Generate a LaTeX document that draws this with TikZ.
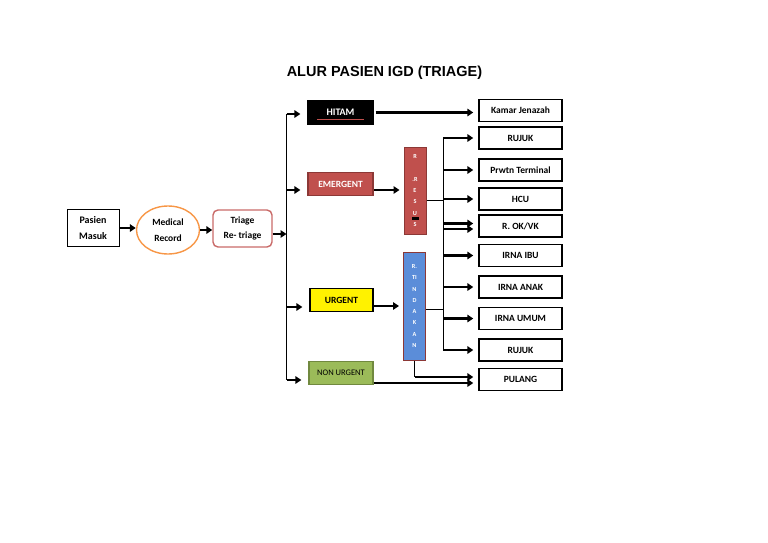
\documentclass[tikz,border=0pt]{standalone}
\usepackage{fontspec}
\setmainfont{Carlito}
\newfontfamily\titlefont{Liberation Sans}
\usetikzlibrary{arrows.meta,positioning,shapes.geometric}

\definecolor{emred}{HTML}{C0504D}
\definecolor{emborder}{HTML}{8C3836}
\definecolor{tinblue}{HTML}{5B8DD9}
\definecolor{nugreen}{HTML}{9BBB59}
\definecolor{nuborder}{HTML}{71893F}
\definecolor{mrorange}{HTML}{F79646}

\begin{document}
\begin{tikzpicture}[
  x=1pt, y=-1pt,
  font=\bfseries\fontsize{9.5}{10}\selectfont,
  start/.style={
    draw=black,
    line width=1pt,
    minimum width=52pt,
    minimum height=37pt,
    align=center,
    inner sep=1pt,
    font=\bfseries\fontsize{9.5}{15.5}\selectfont
  },
  level/.style={
    draw=black,
    line width=1.2pt,
    minimum width=65pt,
    minimum height=23pt,
    inner sep=1pt
  },
  room/.style={
    draw=emborder,
    line width=1pt,
    minimum width=22pt,
    text=white,
    align=center,
    inner sep=0pt,
    font=\bfseries\fontsize{6.2}{11.3}\selectfont
  },
  box/.style={
    draw=black,
    line width=1.4pt,
    minimum width=83pt,
    minimum height=22pt,
    inner sep=1pt
  },
  arrow/.style={-{Triangle[length=6pt,width=7.5pt]}, line width=2.4pt},
  trunk/.style={line width=0.9pt}
]
\useasboundingbox (0,0) rectangle (768,543);

\node[font=\titlefont\bfseries\fontsize{14.5}{16}\selectfont] (title) at (384.5,73) {ALUR PASIEN IGD (TRIAGE)};

% start of flow
\node[start, font=\bfseries\fontsize{10}{15.5}\selectfont] (pasien) at (93,228) {Pasien\\Masuk};
\node[start, ellipse, draw=mrorange, line width=1.4pt, minimum width=63pt, minimum height=48pt] (medrec) at (168,230) {Medical\\Record};
\node[start, draw=emred!85, rounded corners=5pt, line width=1.4pt, minimum width=59pt] (triage) at (242.5,228.5) {Triage\\Re- triage};

% triage levels
\node[level, fill=black, text=white, font=\bfseries\fontsize{10}{11}\selectfont] (hitam) at (340.5,112.5) {HITAM};
\node[level, fill=emred, draw=emborder, text=white] (emergent) at (340.5,184) {EMERGENT};
\node[level, fill=yellow, minimum width=63pt] (urgent) at (341.5,300) {URGENT};
\node[level, fill=nugreen, draw=nuborder, minimum width=64pt, font=\fontsize{8.5}{9}\selectfont] (nonurgent) at (341,373) {NON URGENT};

% rooms
\node[room, fill=emred, minimum height=87pt] (resus) at (415,190.5) {R\\[11.3pt].R\\E\\S\\U\\S};
\node[room, fill=tinblue, minimum height=108pt] (tindakan) at (414.5,306) {R.\\TI\\N\\D\\A\\K\\A\\N};

% destinations
\node[box] (jenazah) at (520.5,110.5) {Kamar Jenazah};
\node[box] (rujuka) at (520.5,138) {RUJUK};
\node[box] (terminal) at (520.5,170) {Prwtn Terminal};
\node[box] (hcu) at (520.5,199) {HCU};
\node[box] (okvk) at (520.5,226) {R. OK/VK};
\node[box] (ibu) at (520.5,255.5) {IRNA IBU};
\node[box] (anak) at (520.5,287) {IRNA ANAK};
\node[box] (umum) at (520.5,318.5) {IRNA UMUM};
\node[box] (rujukb) at (520.5,350) {RUJUK};
\node[box] (pulang) at (520.5,379.5) {PULANG};

% junction points
\coordinate (tj) at (286.5,234);
\coordinate (b1) at (286.5,114);
\coordinate (b2) at (286.5,190);
\coordinate (b3) at (286.5,307);
\coordinate (b4) at (286.5,380);
\coordinate (e1) at (374,190);
\coordinate (u1) at (374,306);
\coordinate (rj) at (443,200);
\coordinate (tk) at (443,309);
\coordinate (pl1) at ([yshift=2.5pt]pulang.west);
\coordinate (pl2) at ([yshift=-3.5pt]pulang.west);

\draw[emred, line width=1pt] ([xshift=-23.5pt,yshift=5.5pt]hitam.south) -- ++(47,0);
\fill ([xshift=-3.5pt,yshift=17.5pt]resus.south) rectangle ++(7,3);

\draw[arrow] (pasien.east) -- (pasien.east -| medrec.west);
\draw[arrow] (medrec.east) -- (medrec.east -| triage.west);
\draw[arrow] (triage.east |- tj) -- (tj);

\draw[trunk] (b1) -- (b4);
\foreach \p/\n in {b1/hitam,b2/emergent,b3/urgent,b4/nonurgent}
  \draw[arrow, shorten >=7pt] (\p) -- (\p -| \n.west);

\draw[arrow, shorten <=2pt, shorten >=5pt] (hitam.east) -- (hitam.east -| jenazah.west);
\draw[arrow, shorten >=4pt] (e1) -- (e1 -| resus.west);
\draw[arrow, shorten >=4pt] (u1) -- (u1 -| tindakan.west);

% resus branches
\draw[trunk] (resus.east |- rj) -- (rj);
\draw[trunk] (rj |- rujuka.west) -- ([yshift=2.5pt]rj |- okvk.west);
\foreach \n in {rujuka,terminal,hcu}
  \draw[arrow, shorten >=5pt] (rj |- \n.west) -- (\n.west);
\draw[arrow, shorten >=5pt] ([yshift=2.5pt]rj |- okvk.west) -- ([yshift=2.5pt]okvk.west);

% tindakan branches
\draw[trunk] (tindakan.east |- tk) -- (tk);
\draw[trunk] ([yshift=2.5pt]tk |- okvk.west) -- (tk |- rujukb.west);
\draw[arrow, shorten >=5pt] ([yshift=-3pt]tk |- okvk.west) -- ([yshift=-3pt]okvk.west);
\foreach \n in {ibu,anak,umum,rujukb}
  \draw[arrow, shorten >=5pt] (tk |- \n.west) -- (\n.west);

% pulang
\draw[trunk] (tindakan.south) -- (tindakan.south |- pl1);
\draw[arrow, shorten >=5pt] (tindakan.south |- pl1) -- (pl1);
\draw[arrow, line width=2pt, shorten >=5pt] (nonurgent.east |- pl2) -- (pl2);

\end{tikzpicture}
\end{document}
